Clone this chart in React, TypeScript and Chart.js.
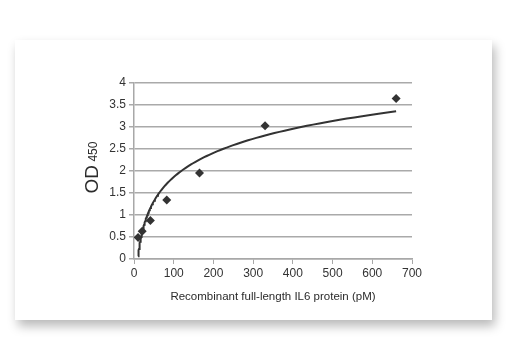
import React, { useEffect, useRef } from "react";
import { Chart, registerables } from "chart.js";

Chart.register(...registerables);

// Data
const concentrations = [10.3, 20.6, 41.25, 82.5, 165, 330, 660];
const od450 = [0.49, 0.63, 0.875, 1.34, 1.955, 3.03, 3.65];

const xTitle = "Recombinant full-length IL6 protein (pM)";
const yTitleMain = "OD";
const yTitleSub = "450";

const FONT = "'Liberation Sans', Arial, sans-serif";

// Logarithmic trendline (least squares fit of y = a*ln(x) + b), like a spreadsheet trendline
function logFit(xs: number[], ys: number[]) {
  const lx = xs.map((v) => Math.log(v));
  const n = xs.length;
  const mx = lx.reduce((s, v) => s + v, 0) / n;
  const my = ys.reduce((s, v) => s + v, 0) / n;
  let sxy = 0;
  let sxx = 0;
  for (let i = 0; i < n; i++) {
    sxy += (lx[i] - mx) * (ys[i] - my);
    sxx += (lx[i] - mx) * (lx[i] - mx);
  }
  const a = sxy / sxx;
  const b = my - a * mx;
  return { a, b };
}

function trendPoints() {
  const { a, b } = logFit(concentrations, od450);
  const xmin = Math.min(...concentrations);
  const xmax = Math.max(...concentrations);
  const pts: { x: number; y: number }[] = [];
  const steps = 120;
  for (let i = 0; i <= steps; i++) {
    const x = xmin * Math.pow(xmax / xmin, i / steps);
    pts.push({ x, y: a * Math.log(x) + b });
  }
  return pts;
}

const yTitlePlugin = {
  id: "yTitle",
  afterDraw(chart: any) {
    const ctx = chart.ctx as CanvasRenderingContext2D;
    ctx.save();
    ctx.fillStyle = "#2b2b2b";
    ctx.textBaseline = "alphabetic";
    ctx.textAlign = "left";
    const mainFont = `19px ${FONT}`;
    const subFont = `12px ${FONT}`;
    ctx.font = mainFont;
    const w1 = ctx.measureText(yTitleMain).width;
    ctx.font = subFont;
    const w2 = ctx.measureText(" " + yTitleSub).width;
    const total = w1 + w2;
    ctx.translate(83, 127.5);
    ctx.rotate(-Math.PI / 2);
    ctx.font = mainFont;
    ctx.fillText(yTitleMain, -total / 2, 0);
    ctx.font = subFont;
    ctx.fillText(" " + yTitleSub, -total / 2 + w1, -1);
    ctx.restore();
  },
};

export default function App() {
  const ref = useRef<HTMLCanvasElement | null>(null);

  useEffect(() => {
    if (!ref.current) return;
    const chart = new Chart(ref.current, {
      type: "scatter",
      data: {
        datasets: [
          {
            label: "Trend",
            type: "line",
            data: trendPoints(),
            borderColor: "#333333",
            borderWidth: 2,
            pointRadius: 0,
            fill: false,
            tension: 0,
          } as any,
          {
            label: "OD450",
            data: concentrations.map((x, i) => ({ x, y: od450[i] })),
            pointStyle: "rectRot",
            pointRadius: 4.5,
            backgroundColor: "#333333",
            borderColor: "#333333",
            borderWidth: 0,
          },
        ],
      },
      options: {
        animation: false,
        responsive: false,
        maintainAspectRatio: false,
        layout: { padding: { left: 79, top: 43, right: 80, bottom: 16 } },
        plugins: { legend: { display: false }, tooltip: { enabled: false } },
        scales: {
          x: {
            type: "linear",
            min: 0,
            max: 700,
            ticks: {
              stepSize: 100,
              color: "#333333",
              font: { family: FONT, size: 12 },
              padding: 2,
              maxRotation: 0,
              callback: (v: any) => String(v),
            },
            grid: {
              drawOnChartArea: false,
              drawTicks: true,
              tickLength: 5,
              color: "#a8a8a8",
              lineWidth: 1,
            },
            border: { color: "#a8a8a8", width: 1.5 },
            title: {
              display: true,
              text: xTitle,
              color: "#2b2b2b",
              font: { family: FONT, size: 11.5 },
              padding: { top: 0, bottom: 0 },
            },
            afterFit(scale: any) {
              scale.height = 45;
            },
          },
          y: {
            type: "linear",
            min: 0,
            max: 4,
            ticks: {
              stepSize: 0.5,
              color: "#333333",
              font: { family: FONT, size: 12 },
              padding: 3,
              callback: (v: any) => String(v),
            },
            grid: {
              drawOnChartArea: true,
              drawTicks: true,
              tickLength: 5,
              color: "#aaaaaa",
              lineWidth: 1.5,
            },
            border: { color: "#a8a8a8", width: 1.5 },
            afterFit(scale: any) {
              scale.width = 40;
            },
          },
        },
      },
      plugins: [yTitlePlugin],
    });
    return () => chart.destroy();
  }, []);

  return (
    <div
      style={{
        position: "fixed",
        left: 0,
        top: 0,
        width: 525,
        height: 356,
        background: "#ffffff",
        overflow: "hidden",
      }}
    >
      <div
        style={{
          position: "absolute",
          left: 15,
          top: 40,
          width: 477,
          height: 280,
          background: "#ffffff",
          boxShadow: "3px 6px 10px rgba(0,0,0,0.28)",
        }}
      >
        <canvas ref={ref} width={477} height={280} style={{ display: "block" }} />
      </div>
    </div>
  );
}
